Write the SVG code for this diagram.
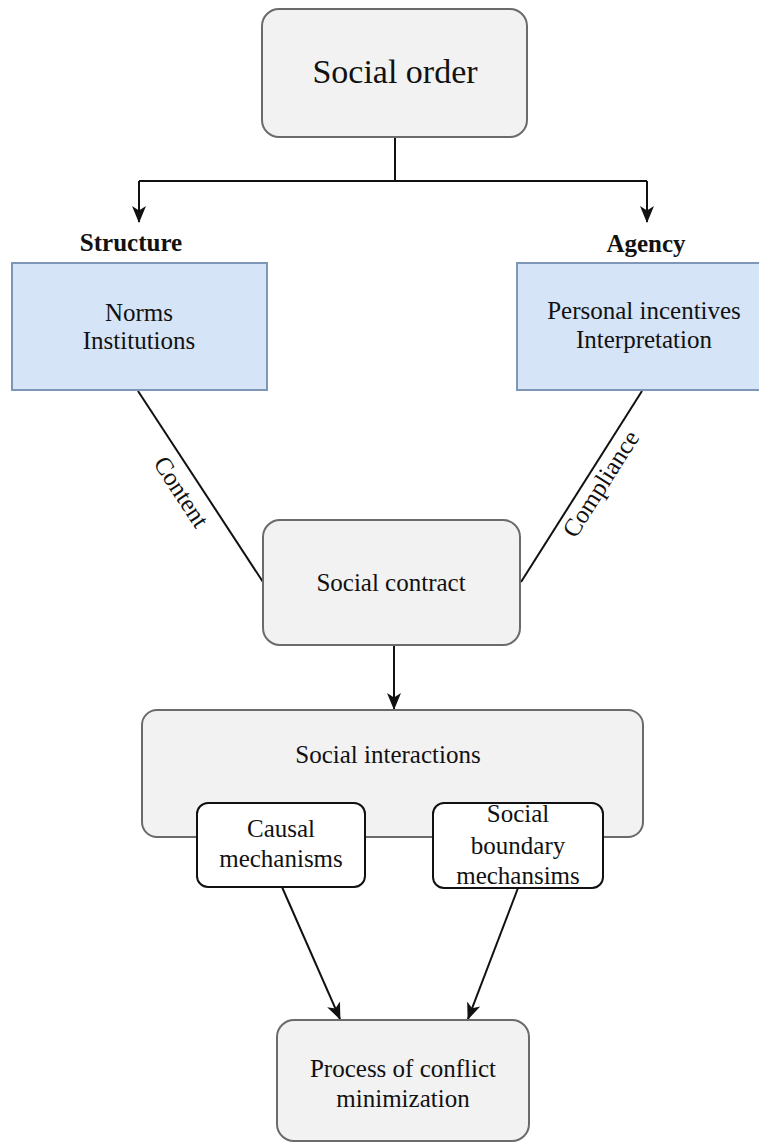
<svg xmlns="http://www.w3.org/2000/svg" width="759" height="1144" viewBox="0 0 759 1144">
<style>
  text { font-family: "Liberation Serif", "Times New Roman", serif; fill: #111; text-anchor: middle; }
  .t { font-size: 25px; }
  .big { font-size: 34px; }
  .b { font-size: 25px; font-weight: bold; }
  .gray { fill: #f2f2f2; stroke: #6b6b6b; stroke-width: 2; }
  .blue { fill: #d6e4f7; stroke: #7f96b8; stroke-width: 2; }
  .white { fill: #ffffff; stroke: #111; stroke-width: 2; }
  .edge { fill: none; stroke: #111; stroke-width: 2; }
</style>
<defs>
  <marker id="arr" markerWidth="18" markerHeight="16" refX="16" refY="8" orient="auto" markerUnits="userSpaceOnUse">
    <path d="M0,1 L17,8 L0,15 L4.5,8 Z" fill="#111"/>
  </marker>
</defs>
<rect width="759" height="1144" fill="#ffffff"/>

<g id="connectors">
  <path class="edge" d="M395,137 V181 M139,181 H647"/>
  <path class="edge" d="M139,181 V222" marker-end="url(#arr)"/>
  <path class="edge" d="M647,181 V222" marker-end="url(#arr)"/>
  <path class="edge" d="M138,391 L263,582"/>
  <path class="edge" d="M642,391 L521,582"/>
  <path class="edge" d="M394,645 V709" marker-end="url(#arr)"/>
  <path class="edge" d="M282,887 L340,1019" marker-end="url(#arr)"/>
  <path class="edge" d="M518,888 L468,1019" marker-end="url(#arr)"/>
  <text class="t" transform="translate(181,492) rotate(56.8)" dy="8">Content</text>
  <text class="t" transform="translate(601,484) rotate(-57.6)" dy="8">Compliance</text>
</g>

<g id="social-order">
  <rect class="gray" x="262" y="9" width="265" height="128" rx="17"/>
  <text class="big" x="395" y="83">Social order</text>
</g>

<g id="structure">
  <text class="b" x="131" y="251">Structure</text>
  <rect class="blue" x="12" y="263" width="255" height="127"/>
  <text class="t" x="139" y="321">Norms</text>
  <text class="t" x="139" y="349">Institutions</text>
</g>

<g id="agency">
  <text class="b" x="646" y="252">Agency</text>
  <rect class="blue" x="517" y="263" width="256" height="127"/>
  <text class="t" x="644" y="319">Personal incentives</text>
  <text class="t" x="644" y="348">Interpretation</text>
</g>

<g id="social-contract">
  <rect class="gray" x="263" y="520" width="257" height="125" rx="17"/>
  <text class="t" x="391" y="591">Social contract</text>
</g>

<g id="social-interactions">
  <rect class="gray" x="142" y="710" width="501" height="127" rx="15"/>
  <text class="t" x="388" y="763">Social interactions</text>
</g>

<g id="causal-mechanisms">
  <rect class="white" x="197" y="803" width="168" height="84" rx="11"/>
  <text class="t" x="281" y="837">Causal</text>
  <text class="t" x="281" y="867">mechanisms</text>
</g>

<g id="social-boundary-mechanisms">
  <rect class="white" x="433" y="803" width="170" height="85" rx="11"/>
  <text class="t" x="518" y="822">Social</text>
  <text class="t" x="518" y="854">boundary</text>
  <text class="t" x="518" y="884">mechansims</text>
</g>

<g id="conflict-minimization">
  <rect class="gray" x="277" y="1020" width="252" height="121" rx="17"/>
  <text class="t" x="403" y="1077">Process of conflict</text>
  <text class="t" x="403" y="1107">minimization</text>
</g>
</svg>
